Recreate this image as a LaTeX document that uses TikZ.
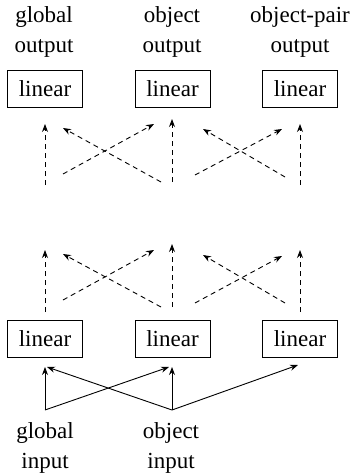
\documentclass[tikz,border=0pt]{standalone}
\usepackage{fontspec}
\setmainfont{Liberation Serif}
\usetikzlibrary{arrows.meta}
\begin{document}
\begin{tikzpicture}[x=1pt,y=-1pt,
  lin/.style={draw,line width=0.9pt,minimum width=75pt,minimum height=37pt,inner sep=0pt,font=\fontsize{23}{28}\selectfont},
  lbl/.style={align=center,inner sep=0pt,font=\fontsize{23}{30}\selectfont},
  arr/.style={line width=0.9pt,-{Stealth[length=8pt,width=6pt]}},
  darr/.style={arr,dash pattern=on 5pt off 4pt}]
\useasboundingbox (0,0) rectangle (352,473);
% labels
\node[lbl] (go) at (44,32) {global\\output};
\node[lbl] (oo) at (172,32) {object\\output};
\node[lbl] (po) at (300,32) {object-pair\\output};
\node[lbl] (gi) at (45,447.5) {global\\input};
\node[lbl] (oi) at (171,447.5) {object\\input};
% boxes
\node[lin] (t1) at (45,88.5) {linear};
\node[lin] (t2) at (172.5,88.5) {linear};
\node[lin] (t3) at (300,88.5) {linear};
\node[lin] (b1) at (45,338.5) {linear};
\node[lin] (b2) at (172.5,338.5) {linear};
\node[lin] (b3) at (300,338.5) {linear};
% upper dashed group
\coordinate (u1s) at (45,185); \coordinate (u1e) at (45,124);
\coordinate (u2s) at (172,182); \coordinate (u2e) at (172,119);
\coordinate (u3s) at (300,185); \coordinate (u3e) at (300,124);
\coordinate (ua1) at (63,174); \coordinate (ua2) at (154,124);
\coordinate (ub1) at (161,182); \coordinate (ub2) at (63,128);
\coordinate (uc1) at (195,175); \coordinate (uc2) at (282,129);
\coordinate (ud1) at (285,177); \coordinate (ud2) at (203,129);
\draw[darr] (u1s) -- (u1e);
\draw[darr] (u2s) -- (u2e);
\draw[darr] (u3s) -- (u3e);
\draw[darr] (ua1) -- (ua2);
\draw[darr] (ub1) -- (ub2);
\draw[darr] (uc1) -- (uc2);
\draw[darr] (ud1) -- (ud2);
% lower dashed group
\coordinate (l1s) at (45,312); \coordinate (l1e) at (45,250);
\coordinate (l2s) at (172,307); \coordinate (l2e) at (172,244);
\coordinate (l3s) at (300,312); \coordinate (l3e) at (300,250);
\coordinate (la1) at (63,300); \coordinate (la2) at (154,250);
\coordinate (lb1) at (161,307); \coordinate (lb2) at (63,254);
\coordinate (lc1) at (195,303); \coordinate (lc2) at (282,256);
\coordinate (ld1) at (285,303); \coordinate (ld2) at (203,255);
\draw[darr] (l1s) -- (l1e);
\draw[darr] (l2s) -- (l2e);
\draw[darr] (l3s) -- (l3e);
\draw[darr] (la1) -- (la2);
\draw[darr] (lb1) -- (lb2);
\draw[darr] (lc1) -- (lc2);
\draw[darr] (ld1) -- (ld2);
% input arrows
\coordinate (gs) at (45,410);
\coordinate (os) at (172,410);
\coordinate (e1) at (45,367);
\coordinate (e1b) at (47,367);
\coordinate (e2) at (172,367);
\coordinate (e2b) at (169,367);
\coordinate (e3) at (298,365);
\draw[arr] (gs) -- (e1);
\draw[arr] (gs) -- (e2b);
\draw[arr] (os) -- (e2);
\draw[arr] (os) -- (e1b);
\draw[arr] (os) -- (e3);
\end{tikzpicture}
\end{document}
